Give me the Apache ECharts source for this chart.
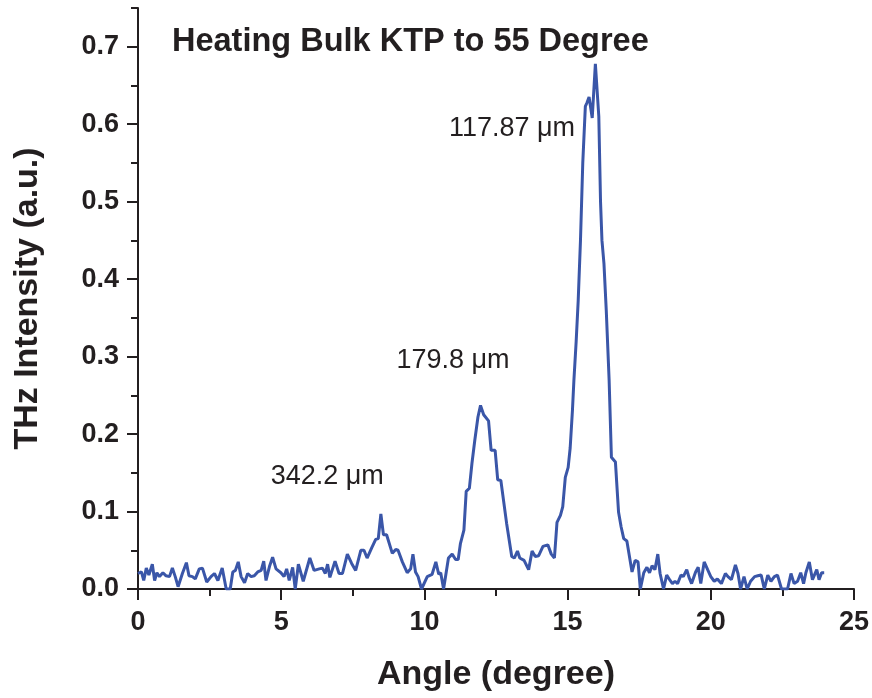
<!DOCTYPE html>
<html>
<head>
<meta charset="utf-8">
<script src="https://cdn.jsdelivr.net/npm/echarts@6/dist/echarts.min.js"></script>
<style>html,body{margin:0;padding:0;background:#fff;}#c{width:872px;height:698px;}</style>
</head>
<body>
<div id="c"></div>
<script>
const angles = [0.00,0.12,0.20,0.29,0.38,0.50,0.58,0.66,0.75,0.87,0.98,1.10,1.20,1.30,1.40,1.55,1.69,1.78,1.90,2.00,2.14,2.25,2.40,2.55,2.67,2.79,2.94,3.08,3.22,3.31,3.40,3.50,3.60,3.72,3.83,3.95,4.06,4.18,4.30,4.39,4.47,4.59,4.70,4.82,4.99,5.10,5.19,5.28,5.40,5.49,5.60,5.77,6.00,6.15,6.33,6.44,6.54,6.62,6.70,6.88,7.02,7.14,7.31,7.46,7.60,7.78,7.89,8.00,8.16,8.30,8.39,8.48,8.57,8.68,8.88,9.00,9.08,9.23,9.40,9.52,9.60,9.69,9.78,9.90,10.10,10.27,10.40,10.50,10.57,10.67,10.84,10.97,11.09,11.18,11.26,11.38,11.46,11.57,11.66,11.76,11.87,11.96,12.07,12.24,12.33,12.47,12.56,12.67,12.87,13.05,13.14,13.25,13.33,13.48,13.64,13.76,13.87,13.99,14.14,14.31,14.43,14.54,14.63,14.75,14.83,14.92,15.02,15.09,15.17,15.22,15.30,15.37,15.45,15.53,15.62,15.68,15.75,15.86,15.97,16.09,16.15,16.20,16.27,16.35,16.45,16.53,16.67,16.78,16.87,16.96,17.07,17.25,17.36,17.46,17.54,17.66,17.77,17.86,17.95,18.05,18.15,18.23,18.35,18.46,18.58,18.66,18.75,18.84,18.96,19.04,19.16,19.24,19.33,19.47,19.56,19.65,19.77,19.89,20.00,20.12,20.23,20.37,20.51,20.60,20.72,20.86,20.95,21.04,21.16,21.27,21.39,21.53,21.64,21.76,21.87,21.99,22.10,22.22,22.33,22.47,22.68,22.80,22.91,23.03,23.14,23.24,23.32,23.44,23.55,23.70,23.78,23.87,23.96];
const intensity = [0.020,0.022,0.011,0.027,0.018,0.032,0.011,0.021,0.016,0.021,0.017,0.016,0.027,0.016,0.003,0.020,0.034,0.017,0.016,0.013,0.026,0.027,0.009,0.016,0.020,0.011,0.027,0.000,0.000,0.022,0.024,0.035,0.016,0.008,0.020,0.016,0.017,0.022,0.024,0.036,0.011,0.029,0.041,0.026,0.021,0.016,0.026,0.011,0.028,0.000,0.032,0.010,0.040,0.024,0.026,0.027,0.020,0.032,0.015,0.036,0.020,0.020,0.045,0.033,0.024,0.050,0.050,0.040,0.053,0.064,0.065,0.097,0.070,0.070,0.046,0.051,0.050,0.035,0.021,0.026,0.045,0.022,0.016,0.000,0.016,0.019,0.035,0.019,0.021,0.000,0.040,0.045,0.038,0.038,0.059,0.076,0.126,0.130,0.162,0.192,0.222,0.237,0.225,0.217,0.179,0.179,0.141,0.140,0.085,0.042,0.040,0.049,0.040,0.037,0.025,0.049,0.042,0.043,0.055,0.057,0.045,0.040,0.086,0.095,0.106,0.144,0.157,0.182,0.231,0.269,0.320,0.372,0.450,0.550,0.623,0.628,0.635,0.608,0.678,0.610,0.500,0.450,0.420,0.360,0.270,0.170,0.164,0.099,0.080,0.065,0.062,0.022,0.037,0.035,0.000,0.021,0.028,0.021,0.030,0.025,0.045,0.020,0.000,0.018,0.011,0.007,0.010,0.007,0.018,0.016,0.025,0.015,0.007,0.022,0.028,0.007,0.035,0.025,0.016,0.010,0.013,0.007,0.020,0.016,0.012,0.031,0.020,0.000,0.016,0.000,0.010,0.016,0.017,0.018,0.000,0.018,0.010,0.016,0.018,0.000,0.000,0.020,0.007,0.010,0.021,0.007,0.021,0.035,0.012,0.025,0.012,0.021,0.021];
const peakLabels = ['117.87 \u03bcm','179.8 \u03bcm','342.2 \u03bcm'];
const peakLabelX = [13.06, 11.0, 6.61];
const peakLabelY = [0.594, 0.295, 0.145];
const yMajorTicks = [0,0.1,0.2,0.3,0.4,0.5,0.6,0.7];
const yMinorTicks = [0.05,0.15,0.25,0.35,0.45,0.55,0.65,0.75];
const titleText = 'Heating Bulk KTP to 55 Degree';

const FONT = "'Liberation Sans', Arial, Helvetica, sans-serif";
const INK = '#231f20';
const chart = echarts.init(document.getElementById('c'), null, {renderer:'canvas'});
const lineData = angles.map((a,i)=>[a,intensity[i]]);
const labelData = peakLabels.map((t,i)=>({name:t, value:[peakLabelX[i], peakLabelY[i]]}));
chart.setOption({
  animation:false,
  backgroundColor:'#fff',
  title:{text:titleText,left:172,top:25,padding:0,
    textStyle:{fontFamily:FONT,fontSize:32.5,fontWeight:'bold',color:INK,lineHeight:34}},
  grid:{left:138,right:15,top:8,bottom:109,containLabel:false},
  xAxis:{type:'value',min:0,max:25,interval:5,
    name:'Angle (degree)',nameLocation:'middle',nameGap:68,
    nameTextStyle:{fontFamily:FONT,fontSize:34,fontWeight:'bold',color:INK,lineHeight:36},
    axisLine:{show:true,onZero:false,lineStyle:{color:INK,width:2}},
    axisTick:{show:true,inside:false,length:11,lineStyle:{color:INK,width:2}},
    minorTick:{show:true,splitNumber:2,length:7,lineStyle:{color:INK,width:2}},
    splitLine:{show:false},minorSplitLine:{show:false},
    axisLabel:{fontFamily:FONT,fontSize:27,fontWeight:'bold',color:INK,margin:20}},
  yAxis:[{type:'value',min:0,max:0.75,position:'left',
    name:'THz Intensity (a.u.)',nameLocation:'middle',nameGap:93,
    nameTextStyle:{fontFamily:FONT,fontSize:34,fontWeight:'bold',color:INK},
    axisLine:{show:true,onZero:false,lineStyle:{color:INK,width:2}},
    axisTick:{show:true,inside:false,length:11,customValues:yMajorTicks,lineStyle:{color:INK,width:2}},
    splitLine:{show:false},
    axisLabel:{customValues:yMajorTicks,formatter:v=>Number(v).toFixed(1),
      fontFamily:FONT,fontSize:27,fontWeight:'bold',color:INK,margin:19}},
   {type:'value',min:0,max:0.75,position:'left',offset:0,
    axisLine:{show:false},
    axisTick:{show:true,inside:false,length:7,customValues:yMinorTicks,lineStyle:{color:INK,width:2}},
    axisLabel:{show:false},splitLine:{show:false}}],
  series:[
    {type:'line',data:lineData,showSymbol:false,symbol:'none',yAxisIndex:0,
     lineStyle:{color:'#3a56a8',width:3},itemStyle:{color:'#3a56a8'},z:3},
    {type:'scatter',data:labelData,symbolSize:0,yAxisIndex:0,silent:true,
     itemStyle:{color:'rgba(0,0,0,0)',opacity:1},
     label:{show:true,position:'inside',formatter:'{b}',fontFamily:FONT,fontSize:27,
       color:INK,opacity:1,textBorderWidth:0,textBorderColor:'transparent'},z:4}
  ]
});
</script>
</body>
</html>
